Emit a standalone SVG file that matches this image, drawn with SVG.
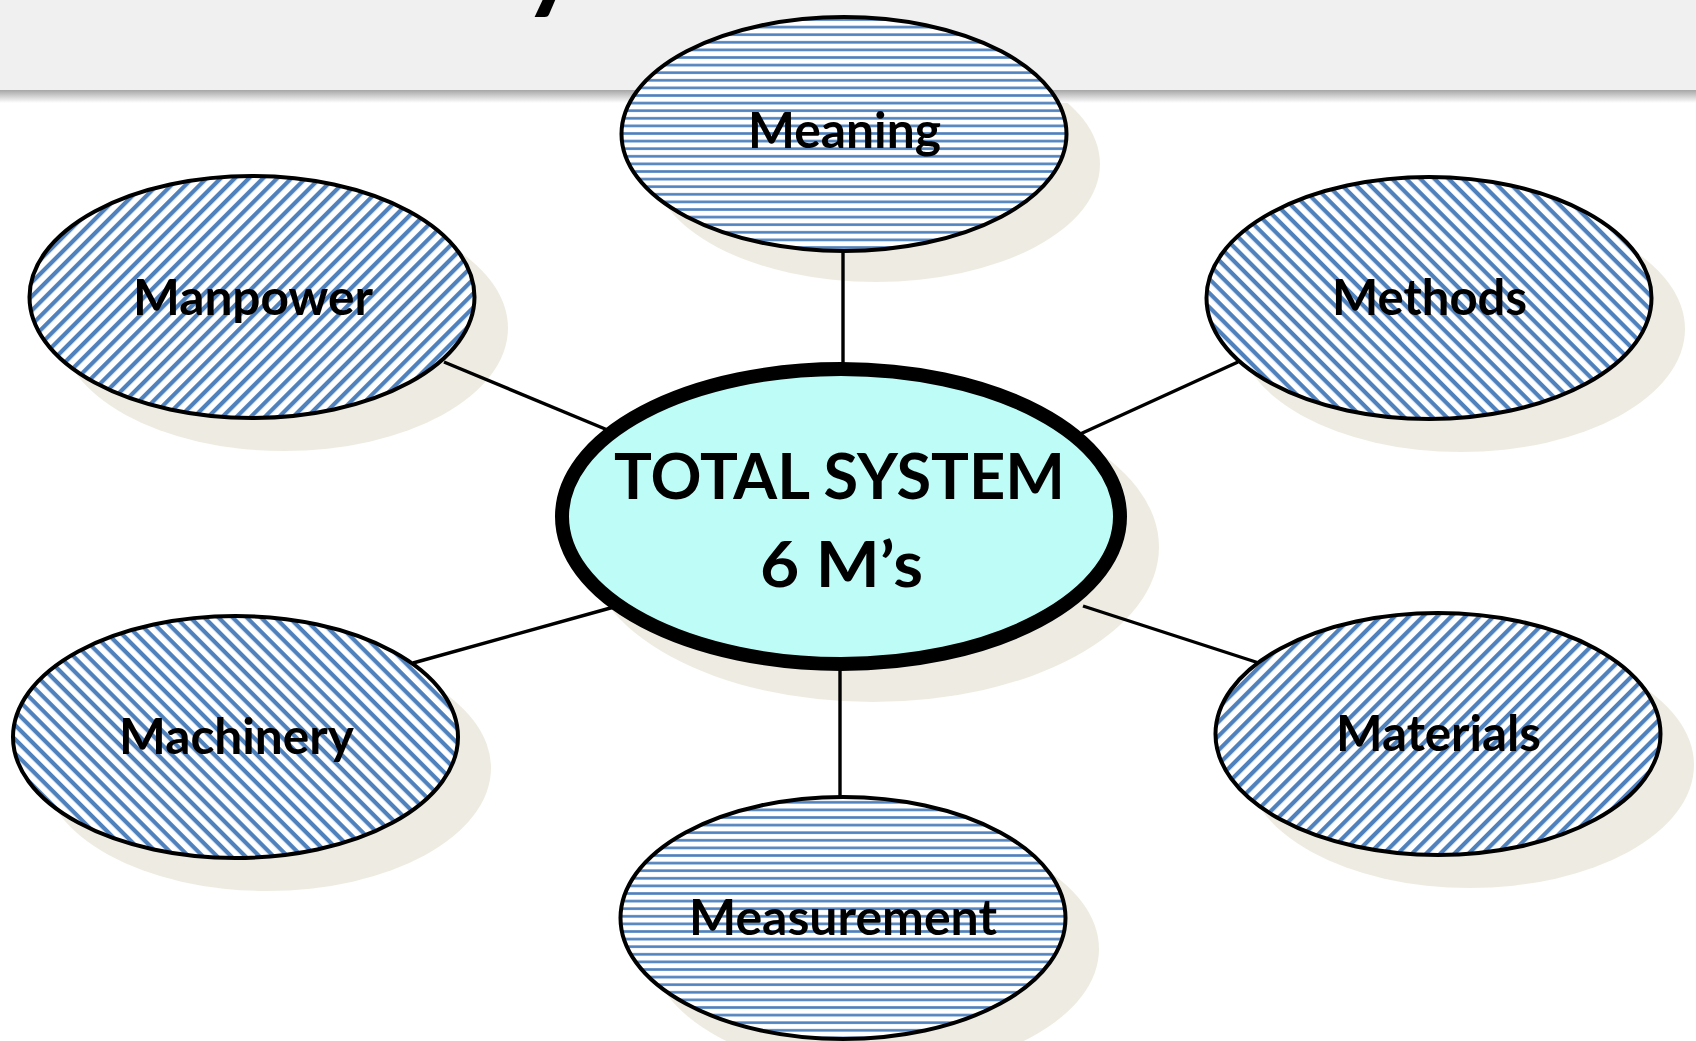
<svg xmlns="http://www.w3.org/2000/svg" width="1696" height="1041" viewBox="0 0 1696 1041">
<defs>
<style>
.node{stroke:#000;stroke-width:4}
.shadow{fill:#EEECE2}
.lbl{font-family:Lato,"Open Sans","Liberation Sans",sans-serif;font-weight:bold;font-size:50px;fill:#000;text-anchor:middle}
.conn{stroke:#000;stroke-width:3.4;fill:none}
</style>
<pattern id="hs" patternUnits="userSpaceOnUse" width="10" height="7.6">
<rect width="10" height="7.6" fill="#fff"/>
<rect y="3" width="10" height="2.6" fill="#4F81BD"/>
</pattern>
<pattern id="dup" patternUnits="userSpaceOnUse" width="10" height="10" patternTransform="rotate(-45)">
<rect width="10" height="10" fill="#fff"/>
<rect width="10" height="4.2" fill="#4F81BD"/>
</pattern>
<pattern id="ddn" patternUnits="userSpaceOnUse" width="10" height="10" patternTransform="rotate(45)">
<rect width="10" height="10" fill="#fff"/>
<rect width="10" height="4.2" fill="#4F81BD"/>
</pattern>
<linearGradient id="hdrsh" x1="0" y1="0" x2="0" y2="1">
<stop offset="0" stop-color="#A6A6A6"/>
<stop offset="1" stop-color="#FFFFFF"/>
</linearGradient>
</defs>
<rect width="1696" height="1041" fill="#fff"/>
<g id="shadows">
<ellipse class="shadow" cx="876" cy="164" rx="224" ry="118"/>
<ellipse class="shadow" cx="284" cy="328" rx="224" ry="123"/>
<ellipse class="shadow" cx="1461" cy="329" rx="224" ry="123"/>
<ellipse class="shadow" cx="873" cy="547" rx="286" ry="155"/>
<ellipse class="shadow" cx="267" cy="768" rx="224" ry="123"/>
<ellipse class="shadow" cx="1470" cy="765" rx="224" ry="123"/>
<ellipse class="shadow" cx="875" cy="949" rx="224" ry="123"/>
</g>
<g id="header">
<rect x="0" y="0" width="1696" height="90" fill="#F0F0F0"/>
<rect x="0" y="90" width="1696" height="13" fill="url(#hdrsh)"/>
<text x="522" y="-1" style="font-family:Lato,'Liberation Sans',sans-serif;font-weight:bold;font-size:110px;fill:#000">y</text>
</g>
<g id="connectors">
<line class="conn" x1="843" y1="250" x2="843" y2="368"/>
<line class="conn" x1="444" y1="362" x2="610" y2="431"/>
<line class="conn" x1="1238" y1="362" x2="1078" y2="435"/>
<line class="conn" x1="413" y1="663" x2="614" y2="607"/>
<line class="conn" x1="1083" y1="606" x2="1262" y2="664"/>
<line class="conn" x1="840" y1="668" x2="840" y2="798"/>
</g>
<g id="meaning">
<ellipse class="node" cx="844" cy="134" rx="222.5" ry="117" fill="url(#hs)"/>
<text class="lbl" x="844.5" y="148" textLength="193" lengthAdjust="spacingAndGlyphs">Meaning</text>
</g>
<g id="manpower">
<ellipse class="node" cx="252" cy="297" rx="222.5" ry="121" fill="url(#dup)"/>
<text class="lbl" x="253" y="315" textLength="240" lengthAdjust="spacingAndGlyphs">Manpower</text>
</g>
<g id="methods">
<ellipse class="node" cx="1429" cy="298" rx="222.5" ry="121" fill="url(#ddn)"/>
<text class="lbl" x="1429.5" y="315" textLength="195" lengthAdjust="spacingAndGlyphs">Methods</text>
</g>
<g id="machinery">
<ellipse class="node" cx="235.5" cy="737" rx="222.5" ry="121" fill="url(#ddn)"/>
<text class="lbl" x="236.5" y="754" textLength="235" lengthAdjust="spacingAndGlyphs">Machinery</text>
</g>
<g id="materials">
<ellipse class="node" cx="1438" cy="734" rx="222.5" ry="121" fill="url(#dup)"/>
<text class="lbl" x="1438.5" y="751" textLength="205" lengthAdjust="spacingAndGlyphs">Materials</text>
</g>
<g id="measurement">
<ellipse class="node" cx="843" cy="918" rx="222.5" ry="121" fill="url(#hs)"/>
<text class="lbl" x="843" y="935" textLength="308" lengthAdjust="spacingAndGlyphs">Measurement</text>
</g>
<g id="total-system">
<ellipse cx="841" cy="516.5" rx="279" ry="147.5" fill="#BEFCF8" stroke="#000" stroke-width="14"/>
<text class="lbl" style="font-size:64px" x="839.5" y="499" textLength="451" lengthAdjust="spacingAndGlyphs">TOTAL SYSTEM</text>
<text class="lbl" style="font-size:64px" x="841.5" y="587" textLength="163" lengthAdjust="spacingAndGlyphs">6 M’s</text>
</g>
</svg>
